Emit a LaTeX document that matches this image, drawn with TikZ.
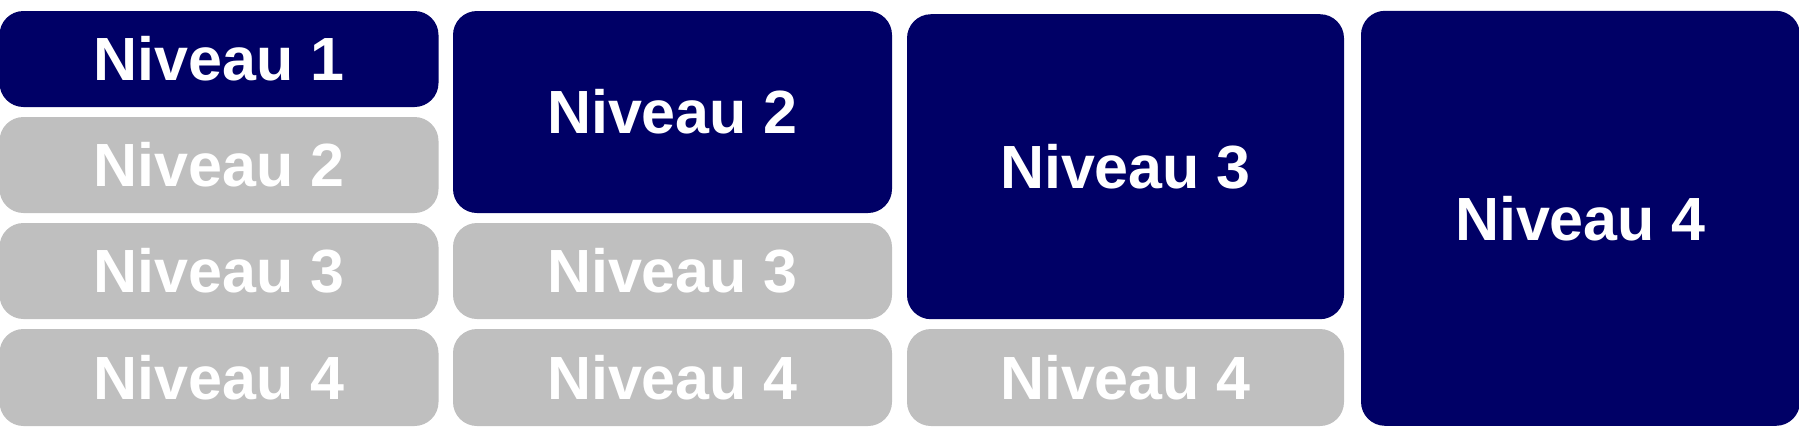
\documentclass[tikz,border=0pt]{standalone}
\usepackage{fontspec}
\setmainfont{Liberation Sans}
\usepackage{tikz}
\usetikzlibrary{positioning}
\definecolor{navy}{RGB}{0,0,102}
\definecolor{levelgray}{RGB}{191,191,191}

\begin{document}
\begin{tikzpicture}[x=1pt,y=-1pt,
levelbox/.style={rounded corners=24pt,inner sep=0pt,text=white,font=\fontsize{61}{70}\selectfont\bfseries},
darkbox/.style={levelbox,fill=navy},
greybox/.style={levelbox,fill=levelgray}]
\useasboundingbox (0,0) rectangle (1799,437);
% first column
\node[darkbox,minimum width=439pt,minimum height=96pt] (A1) at (219,59) {Niveau 1};
\node[greybox,minimum width=439pt,minimum height=96pt] (A2) at (219,165) {Niveau 2};
\node[greybox,minimum width=439pt,minimum height=96pt] (A3) at (219,271) {Niveau 3};
\node[greybox,minimum width=439pt,minimum height=97pt] (A4) at (219,377.5) {Niveau 4};
% second column
\node[darkbox,minimum width=439pt,minimum height=202pt] (B2) at (672.5,112) {Niveau 2};
\node[greybox,minimum width=439pt,minimum height=96pt] (B3) at (672.5,271) {Niveau 3};
\node[greybox,minimum width=439pt,minimum height=97pt] (B4) at (672.5,377.5) {Niveau 4};
% third column
\node[darkbox,minimum width=437pt,minimum height=305pt] (C3) at (1125.5,166.7) {Niveau 3};
\node[greybox,minimum width=437pt,minimum height=97pt] (C4) at (1125.5,377.5) {Niveau 4};
% fourth column
\node[darkbox,minimum width=439pt,minimum height=415pt] (D4) at (1580.5,218.3) {Niveau 4};
\end{tikzpicture}
\end{document}
